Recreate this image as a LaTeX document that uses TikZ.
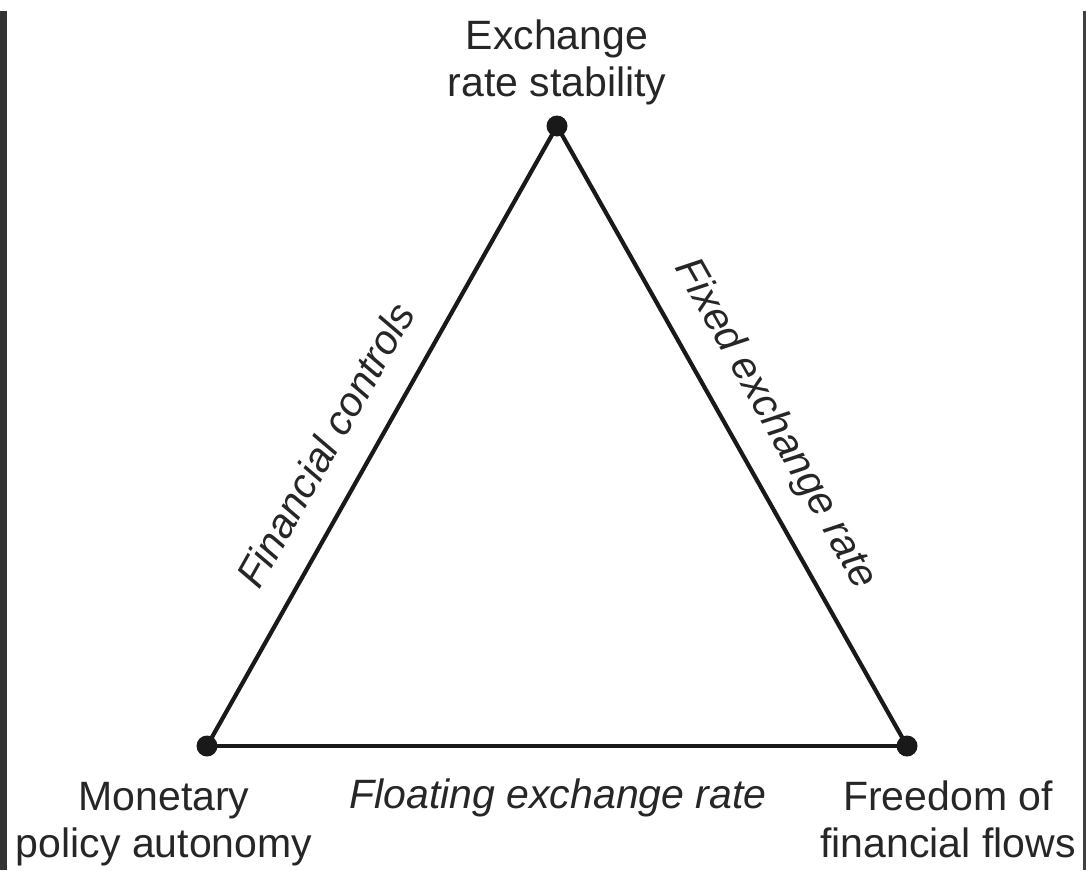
\documentclass[tikz,border=0pt]{standalone}
\usepackage{fontspec}
\setmainfont{Liberation Sans}
\begin{document}
\begin{tikzpicture}[x=1pt,y=1pt,
  edge/.style={line width=4.2pt,draw=black!90},
  vdot/.style={circle,fill=black!90,inner sep=0pt,minimum size=21pt},
  lbl/.style={font=\fontsize{41}{47}\selectfont,align=center,text=black!85,inner sep=0pt},
  elbl/.style={font=\fontsize{41}{47}\selectfont\itshape,text=black!85,inner sep=0pt}]
\useasboundingbox (0,0) rectangle (1086,-870);
\fill[black!80] (0,-11) rectangle (7,-870);
\fill[black!75] (1083,-11) rectangle (1085.5,-870);
\node[vdot] (T) at (557,-126) {};
\node[vdot] (L) at (207,-746) {};
\node[vdot] (R) at (907,-746) {};
\draw[edge] (L.center) -- node[elbl,sloped,above=28pt,pos=0.45]{Financial controls} (T.center);
\draw[edge] (T.center) -- node[elbl,sloped,above=22pt,pos=0.515]{Fixed exchange rate} (R.center);
\draw[edge] (L.center) -- (R.center);
\node[lbl,anchor=base] (ta) at (557,-96) {Exchange\\rate stability};
\node[elbl,anchor=base] (fl) at (558,-808) {Floating exchange rate};
\node[lbl,anchor=base] (ma) at (164,-857) {Monetary\\policy autonomy};
\node[lbl,anchor=base] (fa) at (948,-857) {Freedom of\\financial flows};
\end{tikzpicture}
\end{document}
